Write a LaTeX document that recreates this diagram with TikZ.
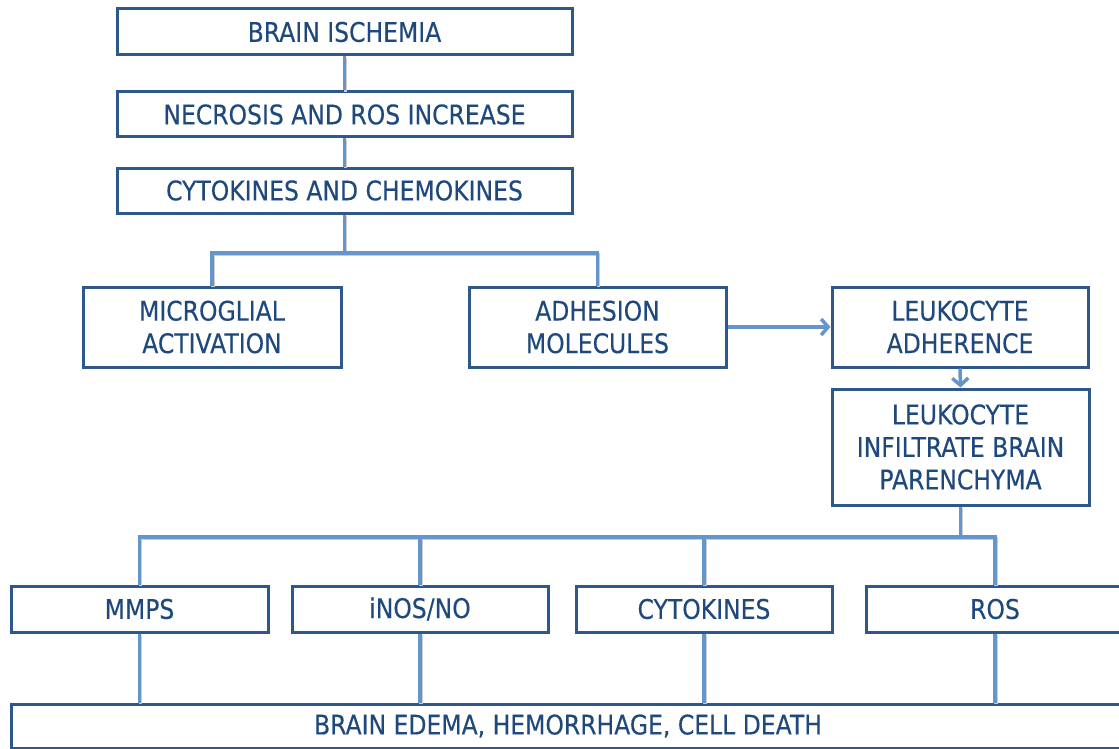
\documentclass[tikz,border=0pt]{standalone}
\usepackage{fontspec}
\setmainfont{DejaVu Sans}[FakeStretch=0.87,FakeBold=0.3]
\usetikzlibrary{arrows.meta}
\definecolor{boxline}{RGB}{46,88,140}
\definecolor{boxtext}{RGB}{31,73,125}
\definecolor{conn}{RGB}{100,150,205}
\begin{document}
\begin{tikzpicture}[x=1pt,y=-1pt,
  box/.style={draw=boxline, line width=3pt, fill=white, rectangle, inner sep=0pt,
    text=boxtext, align=center, font=\fontsize{27}{32.5}\selectfont},
  conn/.style={draw=conn, line width=3.5pt,
    preaction={draw=black!20, line width=3.5pt, transform canvas={shift={(1pt,-1.5pt)}}}},
  arr/.style={draw=conn, line width=3.5pt, -{Straight Barb[length=7pt,width=16pt,line width=3.5pt]}}
]
\useasboundingbox (0,0) rectangle (1119,749);
% connectors
\coordinate (j1) at (344.5,253);
\coordinate (j2) at (960.5,537);
% nodes
\node[box, minimum width=455pt, minimum height=46pt] (isch) at (344.5,32) {BRAIN ISCHEMIA};
\node[box, minimum width=455pt, minimum height=45pt] (necro) at (344.5,114.5) {NECROSIS AND ROS INCREASE};
\node[box, minimum width=455pt, minimum height=45pt] (cyto) at (344.5,190.5) {CYTOKINES AND CHEMOKINES};
\node[box, minimum width=258pt, minimum height=80pt] (micro) at (212,327) {MICROGLIAL\\ACTIVATION};
\node[box, minimum width=257pt, minimum height=80pt] (adh) at (597.5,327) {ADHESION\\MOLECULES};
\node[box, minimum width=256pt, minimum height=80pt] (ladh) at (960,327) {LEUKOCYTE\\ADHERENCE};
\node[box, minimum width=257pt, minimum height=116pt] (linf) at (960.5,447) {LEUKOCYTE\\INFILTRATE BRAIN\\PARENCHYMA};
\node[box, minimum width=257pt, minimum height=46pt] (mmps) at (139.5,609) {MMPS};
\node[box, minimum width=256pt, minimum height=46pt] (inos) at (420,609) {iNOS/NO};
\node[box, minimum width=256pt, minimum height=46pt] (cytk) at (704,609) {CYTOKINES};
\node[box, minimum width=258pt, minimum height=46pt] (ros) at (995,609) {ROS};
\node[box, minimum width=1114pt, minimum height=44pt] (bot) at (568,726) {BRAIN EDEMA, HEMORRHAGE, CELL DEATH};
% connectors
\draw[conn] (isch.south) -- (necro.north);
\draw[conn] (necro.south) -- (cyto.north);
\draw[conn] (cyto.south) -- (j1);
\draw[conn] (micro.north) |- (j1) -| (adh.north);
\draw[arr] (adh.east) -- (ladh.west);
\draw[arr] (ladh.south) -- (linf.north);
\draw[conn] (linf.south) -- (j2);
\draw[conn] (mmps.north) |- (j2) -| (ros.north);
\draw[conn] (inos.north) -- (inos.north |- j2);
\draw[conn] (cytk.north) -- (cytk.north |- j2);
\draw[conn] (mmps.south) -- (mmps.south |- bot.north);
\draw[conn] (inos.south) -- (inos.south |- bot.north);
\draw[conn] (cytk.south) -- (cytk.south |- bot.north);
\draw[conn] (ros.south) -- (ros.south |- bot.north);
\end{tikzpicture}
\end{document}
